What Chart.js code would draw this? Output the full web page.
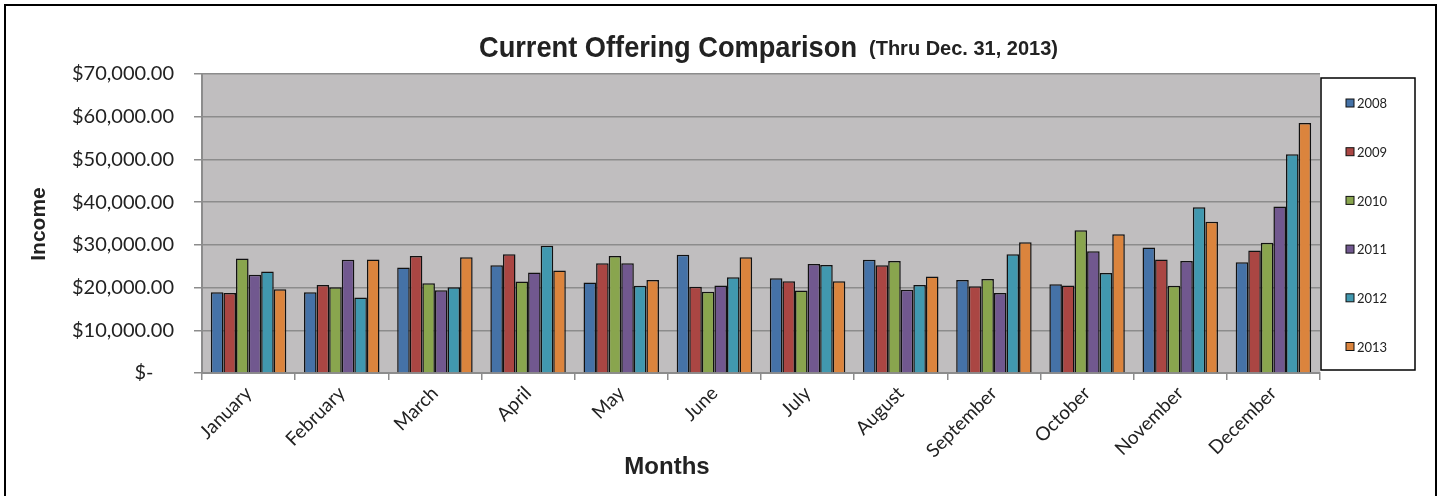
<!DOCTYPE html>
<html>
<head>
<meta charset="utf-8">
<script src="https://cdn.jsdelivr.net/npm/chart.js@4"></script>
<style>
  html, body { margin: 0; padding: 0; background: #fff; }
  #wrap { width: 1440px; height: 496px; }
</style>
</head>
<body>
<div id="wrap"><canvas id="offeringChart" width="1440" height="496"></canvas></div>
<script>
// Chart data
const months = ["January", "February", "March", "April", "May", "June",
  "July", "August", "September", "October", "November", "December"];
const years = ["2008", "2009", "2010", "2011", "2012", "2013"];

const income2008 = [18900, 18900, 24700, 25200, 21200, 27700, 22200, 26500, 21800, 20800, 29400, 25900];
const income2009 = [18700, 20600, 27400, 27800, 25700, 20200, 21500, 25200, 20300, 20500, 26600, 28700];
const income2010 = [26800, 20100, 21000, 21400, 27400, 19000, 19300, 26200, 22000, 33400, 20400, 30500];
const income2011 = [23000, 26500, 19400, 23500, 25700, 20500, 25500, 19500, 18700, 28500, 26200, 39000];
const income2012 = [23750, 17700, 20100, 29800, 20400, 22400, 25300, 20600, 27800, 23400, 38800, 51200];
const income2013 = [19600, 26600, 27100, 24000, 21800, 27100, 21500, 22600, 30600, 32500, 35400, 58500];

const yTicks = [0, 10000, 20000, 30000, 40000, 50000, 60000, 70000];

const seriesValues = [income2008, income2009, income2010, income2011, income2012, income2013];
const seriesColors = ["#4572a7", "#aa4643", "#89a54e", "#71588f", "#4198af", "#db843d"];

// Excel style accounting labels
function moneyLabel(v) {
    if (v === 0) return "$-    ";
    return "$" + v.toLocaleString("en-US", { minimumFractionDigits: 2, maximumFractionDigits: 2 });
}

// Draw text squeezed to a given width (the original title uses a narrow font)
function narrowText(ctx, text, x, y, targetWidth) {
    const w = ctx.measureText(text).width;
    ctx.save();
    ctx.translate(x, y);
    ctx.scale(Math.min(1, targetWidth / w), 1);
    ctx.fillText(text, 0, 0);
    ctx.restore();
}

// Grey plot area behind the bars
const plotBackground = {
    id: "plotBackground",
    beforeDraw(chart) {
        const { ctx, chartArea } = chart;
        ctx.save();
        ctx.fillStyle = "#c0bebf";
        ctx.fillRect(chartArea.left, chartArea.top, chartArea.right - chartArea.left, chartArea.bottom - chartArea.top);
        ctx.restore();
    }
};

// Titles, boxed legend and outer frame
const decorations = {
    id: "decorations",
    afterDraw(chart) {
        const { ctx } = chart;
        ctx.save();

        // outer frame
        ctx.strokeStyle = "#000";
        ctx.lineWidth = 2;
        ctx.strokeRect(5, 5, 1431, 520);

        // main title
        ctx.fillStyle = "#222";
        ctx.textBaseline = "alphabetic";
        ctx.textAlign = "left";
        ctx.font = "bold 30px 'Liberation Sans', Arial, sans-serif";
        narrowText(ctx, "Current Offering Comparison", 479, 57, 378);
        ctx.font = "bold 20px 'Liberation Sans', Arial, sans-serif";
        narrowText(ctx, "(Thru Dec. 31, 2013)", 869, 55, 206);

        // axis titles
        ctx.font = "bold 24px 'Liberation Sans', Arial, sans-serif";
        ctx.textAlign = "center";
        ctx.textBaseline = "middle";
        ctx.fillText("Months", 667, 467);
        ctx.font = "bold 21px 'Liberation Sans', Arial, sans-serif";
        ctx.save();
        ctx.translate(39, 224);
        ctx.rotate(-Math.PI / 2);
        ctx.fillText("Income", 0, 0);
        ctx.restore();

        // legend box
        ctx.lineWidth = 1.5;
        ctx.strokeStyle = "#000";
        ctx.fillStyle = "#fff";
        ctx.fillRect(1321, 78, 94, 292);
        ctx.strokeRect(1321, 78, 94, 292);
        ctx.font = "13px Lato, sans-serif";
        ctx.textAlign = "left";
        chart.data.datasets.forEach((ds, i) => {
            const y = 103 + i * 48.7;
            ctx.fillStyle = ds.backgroundColor;
            ctx.fillRect(1346, y - 4, 8, 8);
            ctx.lineWidth = 1;
            ctx.strokeStyle = "#111";
            ctx.strokeRect(1346, y - 4, 8, 8);
            ctx.fillStyle = "#222";
            ctx.fillText(ds.label, 1357, y + 1);
        });

        ctx.restore();
    }
};

const ctx = document.getElementById("offeringChart").getContext("2d");
const offeringChart = new Chart(ctx, {
    type: "bar",
    data: {
        labels: months,
        datasets: years.map((year, i) => ({
            label: year,
            data: seriesValues[i],
            backgroundColor: seriesColors[i],
            borderColor: "#111",
            borderWidth: 1.5,
            borderSkipped: "bottom",
            categoryPercentage: 0.81,
            barPercentage: 1.0
        }))
    },
    options: {
        responsive: false,
        animation: false,
        layout: {
            padding: { left: 0, top: 74, right: 120, bottom: 0 }
        },
        plugins: {
            legend: { display: false },
            title: { display: false },
            tooltip: { enabled: false }
        },
        scales: {
            x: {
                afterFit(scale) { scale.height = 123; },
                grid: {
                    offset: true,
                    drawOnChartArea: false,
                    color: "#8c8c8c",
                    lineWidth: 1.5,
                    tickLength: 7
                },
                border: { color: "#8c8c8c", width: 2 },
                ticks: {
                    autoSkip: false,
                    minRotation: 45,
                    maxRotation: 45,
                    padding: 2,
                    color: "#222",
                    font: { family: "Lato", size: 19 }
                }
            },
            y: {
                min: 0,
                max: 70000,
                afterFit(scale) { scale.width = 202; },
                afterBuildTicks(scale) { scale.ticks = yTicks.map((v) => ({ value: v })); },
                grid: {
                    color: "#8c8c8c",
                    lineWidth: 1.5,
                    tickLength: 8
                },
                border: { color: "#8c8c8c", width: 2 },
                ticks: {
                    padding: 20,
                    color: "#222",
                    font: { family: "Lato", size: 20 },
                    callback: (v) => moneyLabel(v)
                }
            }
        }
    },
    plugins: [plotBackground, decorations]
});
</script>
</body>
</html>
